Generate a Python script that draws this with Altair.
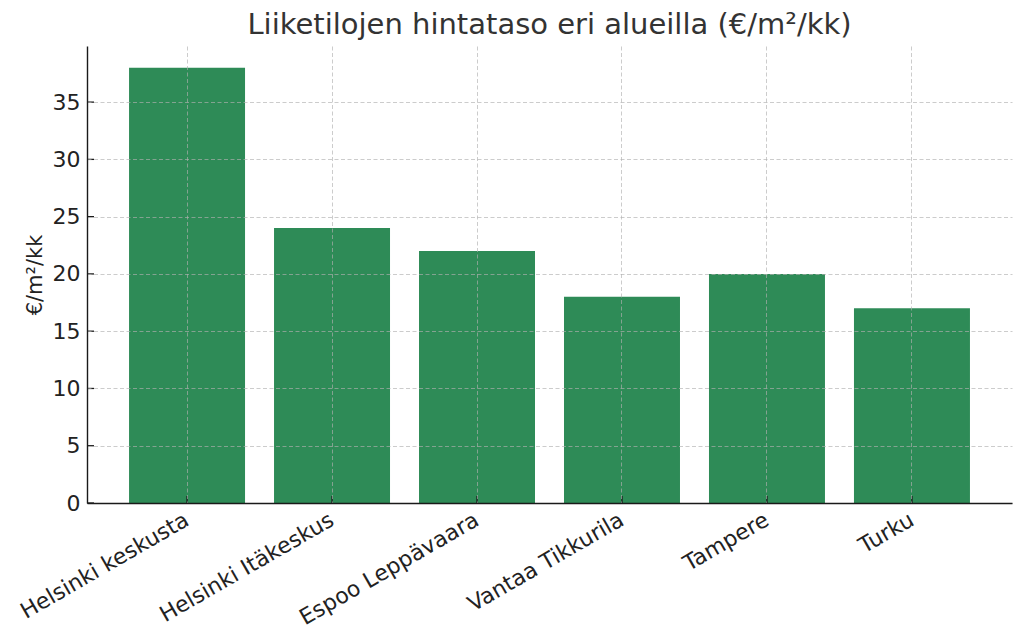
import altair as alt
import pandas as pd

regions = ["Helsinki keskusta", "Helsinki Itäkeskus", "Espoo Leppävaara",
           "Vantaa Tikkurila", "Tampere", "Turku"]
prices = [38, 24, 22, 18, 20, 17]
y_ticks = [0, 5, 10, 15, 20, 25, 30, 35]

df = pd.DataFrame({"region": regions, "price": prices})
tick_df = pd.DataFrame({"price": y_ticks})

FONT = "DejaVu Sans"
x_scale = alt.Scale(domain=regions, paddingInner=0.2, paddingOuter=0.29)
y_scale = alt.Scale(domain=[0, 39.9], nice=False, zero=True)

grid_kw = dict(grid=True, gridColor="#b0b0b0", gridOpacity=0.65, gridDash=[4, 2.5],
               gridWidth=1, domainColor="#1a1a1a", domainWidth=1.4, zindex=1,
               labelFont=FONT, labelColor="#222222", titleFont=FONT, titleColor="#222222")

x_axis = alt.Axis(title=None, labelAngle=-30, labelAlign="right", labelBaseline="top",
                  labelPadding=6, labelOffset=-5, tickSize=0, bandPosition=0.5,
                  labelFontSize=22, labelLimit=0, **grid_kw)
y_axis = alt.Axis(title="€/m²/kk", values=y_ticks, tickSize=0, labelPadding=7,
                  labelFontSize=22, titleFontSize=21, titleFontWeight="normal",
                  titlePadding=7, **grid_kw)

bars = alt.Chart(df).mark_bar(color="#2e8b57").encode(
    x=alt.X("region:N", scale=x_scale, sort=regions, axis=x_axis),
    y=alt.Y("price:Q", scale=y_scale, axis=y_axis),
)

xticks = alt.Chart(df).mark_rule(color="#1a1a1a", strokeWidth=1.3).encode(
    x=alt.X("region:N", scale=x_scale, sort=regions, bandPosition=0.5, axis=x_axis),
    y=alt.value(457), y2=alt.value(450),
)

yticks = alt.Chart(tick_df).mark_rule(color="#1a1a1a", strokeWidth=1.3).encode(
    y=alt.Y("price:Q", scale=y_scale, axis=y_axis),
    x=alt.value(0), x2=alt.value(7),
)

chart = alt.layer(bars, xticks, yticks).properties(
    width=925, height=457,
    title=alt.TitleParams("Liiketilojen hintataso eri alueilla (€/m²/kk)", fontSize=29,
                          font=FONT, fontWeight="normal", color="#333333",
                          anchor="middle", offset=6),
    autosize=alt.AutoSizeParams(type="none"),
    padding={"left": 79, "top": 38, "right": 2, "bottom": 128},
).configure_view(stroke=None)

chart.save("out.html", embed_options={"renderer": "svg", "actions": False})
